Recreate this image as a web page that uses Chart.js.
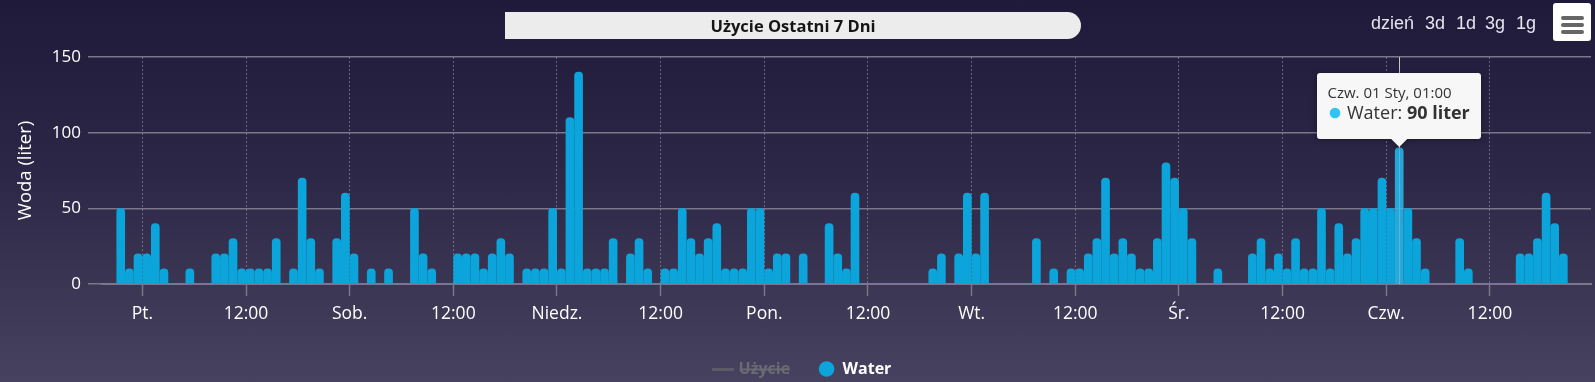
<!DOCTYPE html>
<html>
<head>
<meta charset="utf-8">
<script src="https://cdn.jsdelivr.net/npm/chart.js@4.4.0/dist/chart.umd.min.js"></script>
<style>
  html, body { margin: 0; padding: 0; }
  body {
    width: 1595px; height: 382px; overflow: hidden;
    background: linear-gradient(180deg, #201a3a 0%, #2c2746 45%, #46425f 100%);
    font-family: 'Open Sans', sans-serif;
  }
  #wrap { position: relative; width: 1595px; height: 382px; }
  #chart { position: absolute; left: 0; top: 0; }
  .title {
    position: absolute; left: 505px; top: 12px; width: 576px; height: 27px;
    background: #ececec; border-radius: 0 14px 14px 0;
    font: bold 16.5px 'Open Sans', sans-serif; color: #151515;
    text-align: center; line-height: 27px;
  }
  .range {
    position: absolute; top: 13px; line-height: 20px;
    font: 18px 'Liberation Sans', Arial, sans-serif; color: #e4e4ec;
  }
  .menu {
    position: absolute; left: 1553px; top: 3px; width: 38px; height: 38px;
    background: #fff; border-radius: 3px;
  }
  .menu i {
    position: absolute; left: 8px; width: 23px; height: 4px;
    background: #666; border-radius: 2px;
  }
</style>
</head>
<body>
<div id="wrap">
  <canvas id="chart" width="1595" height="382"></canvas>
  <div class="title">Użycie Ostatni 7 Dni</div>
  <span class="range" style="left:1371px">dzień</span>
  <span class="range" style="left:1425px">3d</span>
  <span class="range" style="left:1456px">1d</span>
  <span class="range" style="left:1485px">3g</span>
  <span class="range" style="left:1516px">1g</span>
  <div class="menu"><i style="top:13px"></i><i style="top:20px"></i><i style="top:27px"></i></div>
</div>
<script>
// hours are counted from Pt. 00:00; first bar is Czw. 21:00 of the week before
const dayLabels = ['Pt.', 'Sob.', 'Niedz.', 'Pon.', 'Wt.', 'Śr.', 'Czw.'];
const midLabel = '12:00';
const tickHours = [0, 12, 24, 36, 48, 60, 72, 84, 96, 108, 120, 132, 144, 156];
const firstHour = -3;
const yTicks = [0, 50, 100, 150];

// hourly water use in liters
const water = [
  50, 10, 20, 20, 40, 10, 0, 0, 10, 0, 0, 20,
  20, 30, 10, 10, 10, 10, 30, 0, 10, 70, 30, 10,
  0, 30, 60, 20, 0, 10, 0, 10, 0, 0, 50, 20,
  10, 0, 0, 20, 20, 20, 10, 20, 30, 20, 0, 10,
  10, 10, 50, 10, 110, 140, 10, 10, 10, 30, 0, 20,
  30, 10, 0, 10, 10, 50, 30, 20, 30, 40, 10, 10,
  10, 50, 50, 10, 20, 20, 0, 20, 0, 0, 40, 20,
  10, 60, 0, 0, 0, 0, 0, 0, 0, 0, 10, 20,
  0, 20, 60, 20, 60, 0, 0, 0, 0, 0, 30, 0,
  10, 0, 10, 10, 20, 30, 70, 20, 30, 20, 10, 10,
  30, 80, 70, 50, 30, 0, 0, 10, 0, 0, 0, 20,
  30, 10, 20, 10, 30, 10, 10, 50, 10, 40, 20, 30,
  50, 50, 70, 50, 90, 50, 30, 10, 0, 0, 0, 30,
  10, 0, 0, 0, 0, 0, 20, 20, 30, 60, 40, 20
];
const usage = [];

// the hovered bar shown with its tooltip
const hoverIndex = 148;
const hoverTitle = 'Czw. 01 Sty, 01:00';
const unit = 'liter';

const barColor = '#0ba5dc';
const hoverColor = 'rgba(40, 188, 238, 0.85)';
const gridColor = '#7a778a';

Chart.defaults.font.family = "'Open Sans', sans-serif";

// small grey line used as the legend mark of the hidden series
const lineMark = document.createElement('canvas');
lineMark.width = 22;
lineMark.height = 3;
const lm = lineMark.getContext('2d');
lm.fillStyle = '#5b5a66';
lm.fillRect(0, 0, 22, 3);

const hoverTip = {
  id: 'hoverTip',
  beforeDatasetsDraw(chart) {
    const bar = chart.getDatasetMeta(1).data[hoverIndex];
    const ctx = chart.ctx;
    const area = chart.chartArea;
    ctx.save();
    ctx.strokeStyle = '#c8c8cc';
    ctx.lineWidth = 1;
    ctx.beginPath();
    ctx.moveTo(Math.round(bar.x) + 0.5, area.top);
    ctx.lineTo(Math.round(bar.x) + 0.5, area.bottom);
    ctx.stroke();
    ctx.restore();
  },
  afterDraw(chart) {
    const bar = chart.getDatasetMeta(1).data[hoverIndex];
    const ctx = chart.ctx;
    const w = 164, h = 66, r = 3;
    const left = Math.round(bar.x - w / 2);
    const top = Math.round(bar.y - 9 - h);
    const cx = bar.x;

    ctx.save();
    ctx.shadowColor = 'rgba(0, 0, 0, 0.35)';
    ctx.shadowBlur = 6;
    ctx.shadowOffsetY = 1;
    ctx.fillStyle = '#f7f7f7';
    ctx.beginPath();
    ctx.moveTo(left + r, top);
    ctx.lineTo(left + w - r, top);
    ctx.arcTo(left + w, top, left + w, top + r, r);
    ctx.lineTo(left + w, top + h - r);
    ctx.arcTo(left + w, top + h, left + w - r, top + h, r);
    ctx.lineTo(cx + 8, top + h);
    ctx.lineTo(cx, top + h + 8);
    ctx.lineTo(cx - 8, top + h);
    ctx.lineTo(left + r, top + h);
    ctx.arcTo(left, top + h, left, top + h - r, r);
    ctx.lineTo(left, top + r);
    ctx.arcTo(left, top, left + r, top, r);
    ctx.closePath();
    ctx.fill();
    ctx.restore();

    ctx.save();
    ctx.fillStyle = '#333';
    ctx.textBaseline = 'alphabetic';
    ctx.font = "15px 'Open Sans', sans-serif";
    ctx.fillText(hoverTitle, left + 10.5, top + 24.5);

    ctx.fillStyle = '#31c3f3';
    ctx.beginPath();
    ctx.arc(left + 18, top + 40, 5.3, 0, Math.PI * 2);
    ctx.fill();

    const label = chart.data.datasets[1].label + ': ';
    ctx.fillStyle = '#333';
    ctx.font = "18px 'Open Sans', sans-serif";
    ctx.fillText(label, left + 30, top + 46);
    const lw = ctx.measureText(label).width;
    ctx.font = "bold 18px 'Open Sans', sans-serif";
    ctx.fillText(water[hoverIndex] + ' ' + unit, left + 30 + lw, top + 46);
    ctx.restore();
  }
};

new Chart(document.getElementById('chart'), {
  type: 'bar',
  data: {
    datasets: [
      {
        type: 'line',
        label: 'Użycie',
        data: usage,
        hidden: true,
        borderColor: '#5b5a66',
        legendMark: lineMark
      },
      {
        label: 'Water',
        data: water.map((v, i) => ({ x: firstHour + i + 0.5, y: v })),
        backgroundColor: ctx => ctx.dataIndex === hoverIndex ? hoverColor : barColor,
        borderWidth: 0,
        borderRadius: 4,
        barThickness: 8,
        legendMark: 'circle'
      }
    ]
  },
  options: {
    responsive: false,
    animation: false,
    events: [],
    layout: { padding: { top: 57, right: 4, bottom: -5, left: 15 } },
    scales: {
      x: {
        type: 'linear',
        min: -4.67,
        max: 167.7,
        offset: false,
        afterBuildTicks: s => { s.ticks = tickHours.map(v => ({ value: v })); },
        afterFit: s => { s.height = 48.6; },
        ticks: {
          color: '#ffffff',
          font: { size: 17.5 },
          padding: 8,
          maxRotation: 0,
          autoSkip: false,
          callback: v => v % 24 === 0 ? dayLabels[v / 24] : midLabel
        },
        grid: {
          offset: false,
          color: 'rgba(150, 147, 168, 0.6)',
          lineWidth: 1,
          tickLength: 12,
          tickColor: gridColor,
          tickWidth: 1.5,
          tickBorderDash: [1, 0]
        },
        border: { display: true, color: gridColor, width: 2, dash: [2, 2] }
      },
      y: {
        min: 0,
        max: 150,
        afterBuildTicks: s => { s.ticks = yTicks.map(v => ({ value: v })); },
        afterFit: s => { s.width = 87; },
        ticks: { color: '#ffffff', font: { size: 17 }, padding: 7 },
        grid: {
          color: gridColor,
          lineWidth: 1.5,
          drawTicks: true,
          tickLength: 14,
          tickColor: gridColor
        },
        border: { display: false },
        title: {
          display: true,
          text: 'Woda (liter)',
          color: '#ffffff',
          font: { size: 18.5 },
          padding: { top: 0, bottom: 0 }
        }
      }
    },
    plugins: {
      tooltip: { enabled: false },
      legend: {
        position: 'bottom',
        onClick: null,
        labels: {
          usePointStyle: true,
          boxWidth: 16,
          boxHeight: 11,
          padding: 28.4,
          font: { size: 16, weight: 'bold' },
          generateLabels: chart => chart.data.datasets.map((ds, i) => {
            const hidden = !chart.isDatasetVisible(i);
            return {
              text: ds.label,
              datasetIndex: i,
              hidden: hidden,
              fontColor: hidden ? '#6a6a72' : '#ffffff',
              fillStyle: barColor,
              strokeStyle: barColor,
              lineWidth: 0,
              pointStyle: ds.legendMark
            };
          })
        }
      }
    }
  },
  plugins: [hoverTip]
});
</script>
</body>
</html>
